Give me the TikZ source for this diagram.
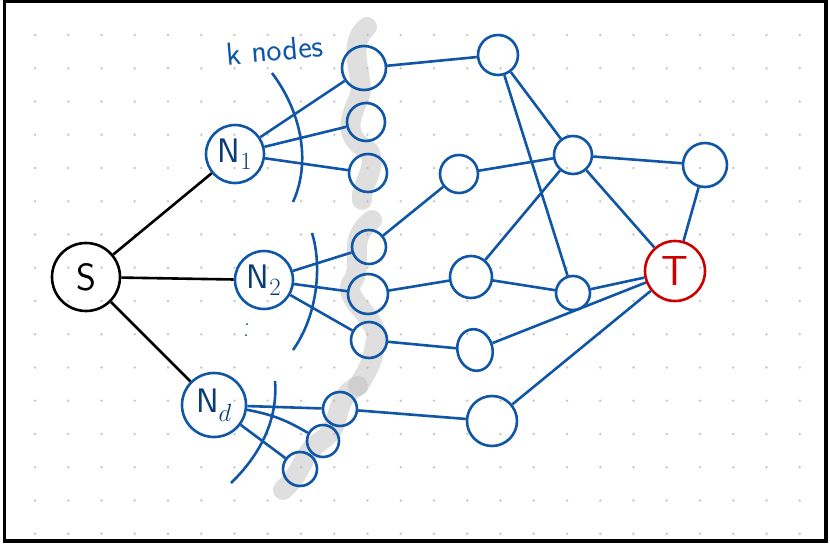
\documentclass[tikz,border=0pt]{standalone}
\usetikzlibrary{positioning,shapes.geometric}
\definecolor{penblue}{RGB}{16,86,166}
\definecolor{penred}{RGB}{204,0,0}
\definecolor{dotgray}{RGB}{200,200,200}

\begin{document}
\begin{tikzpicture}[x=1pt,y=-1pt,
  vertex/.style={circle,draw=penblue,line width=2.6pt,inner sep=0pt},
  hub/.style={vertex,font=\sffamily\fontsize{34}{34}\selectfont,text=penblue!70!black},
  link/.style={penblue,line width=2.6pt},
  trunk/.style={black,line width=2.6pt},
  marker/.style={gray!50,opacity=0.5,line width=20pt,line cap=round,line join=round}]
\useasboundingbox (0,0) rectangle (830,546);

% dot grid
\foreach \i in {0,...,23}
  \foreach \j in {0,...,15}
    \fill[dotgray] (35+33.25*\i, 35+33.25*\j) circle (1.3pt);

% grey highlight strokes
\draw[marker] (367,27) .. controls (345,45) and (365,80) .. (360,95)
  .. controls (352,115) and (340,135) .. (368,150) .. controls (380,165) and (360,185) .. (362,200);
\draw[marker] (372,220) .. controls (345,240) and (365,265) .. (352,282)
  .. controls (340,300) and (385,320) .. (375,345) .. controls (372,365) and (365,375) .. (358,386);
\draw[marker] (358,386) .. controls (330,400) and (345,425) .. (322,440)
  .. controls (300,455) and (305,470) .. (283,490);

% nodes
\node[circle,draw=black,line width=2.6pt,minimum size=68pt,inner sep=0pt,
  font=\sffamily\fontsize{38}{38}\selectfont] (S) at (86,277) {S};
\node[hub,minimum size=58pt] (N1) at (235,154) {N$_1$};
\node[hub,minimum size=58pt] (N2) at (264,280) {N$_2$};
\node[hub,minimum size=64pt] (Nd) at (214,405) {N$_d$};

\node[vertex,minimum size=44pt] (k1a) at (364,68) {};
\node[vertex,minimum size=38pt] (k1b) at (366,122) {};
\node[vertex,minimum size=38pt] (k1c) at (368,173) {};
\node[vertex,minimum size=34pt] (k2a) at (369,247) {};
\node[vertex,minimum size=40pt] (k2b) at (368,294) {};
\node[vertex,minimum size=36pt] (k2c) at (369,340) {};
\node[vertex,minimum size=34pt] (kda) at (340,409) {};
\node[vertex,minimum size=32pt] (kdb) at (323,441) {};
\node[vertex,minimum size=34pt] (kdc) at (300,469) {};

\node[vertex,minimum size=40pt] (A) at (498,55) {};
\node[vertex,minimum size=38pt] (B) at (459,174) {};
\node[vertex,minimum size=38pt] (C) at (573,155) {};
\node[vertex,minimum size=44pt] (D) at (705,165) {};
\node[vertex,minimum size=42pt] (E) at (471,277) {};
\node[vertex,minimum size=34pt] (F) at (573,293) {};
\node[ellipse,draw=penblue,line width=2.6pt,minimum width=35pt,minimum height=42pt,
  rotate=15] (G) at (475,350) {};
\node[vertex,minimum size=50pt] (H) at (492,421) {};
\node[circle,draw=penred,line width=2.6pt,minimum size=60pt,inner sep=0pt,text=penred,
  font=\sffamily\fontsize{42}{42}\selectfont] (T) at (675,271) {T};

\node[penblue,rotate=5,font=\sffamily\fontsize{32}{32}\selectfont] (knodes) at (275,50) {k nodes};

% source edges
\draw[trunk] (S) -- (N1);
\draw[trunk] (S) -- (N2);
\draw[trunk] (S) -- (Nd);

% fan-out
\draw[link] (N1) -- (k1a) (N1) -- (k1b) (N1) -- (k1c);
\draw[link] (N2) -- (k2a) (N2) -- (k2b) (N2) -- (k2c);
\draw[link] (Nd) -- (kda) (Nd) to[bend left=10] (kdb) (Nd) -- (kdc);

% arcs
\draw[link] (272,73) .. controls (300,110) and (312,160) .. (293,202);
\draw[link] (312,233) .. controls (322,265) and (318,315) .. (293,350);
\draw[link] (275,381) .. controls (278,420) and (260,455) .. (231,483);
\fill[penblue!70!black] (247,324) circle (1pt) (246,335) circle (1pt);

% network
\draw[link] (k1a) -- (A);
\draw[link] (A) -- (C);
\draw[link] (A) -- (F);
\draw[link] (k2a) -- (B);
\draw[link] (B) -- (C);
\draw[link] (C) -- (D);
\draw[link] (C) -- (T);
\draw[link] (C) -- (E);
\draw[link] (D) -- (T);
\draw[link] (k2b) -- (E);
\draw[link] (E) -- (F);
\draw[link] (F) -- (T);
\draw[link] (k2c) -- (G);
\draw[link] (G) -- (T);
\draw[link] (kda) -- (H);
\draw[link] (H) -- (T);

% frame
\draw[line width=3.5pt] (4.5,1.7) rectangle (826,541);
\end{tikzpicture}
\end{document}
